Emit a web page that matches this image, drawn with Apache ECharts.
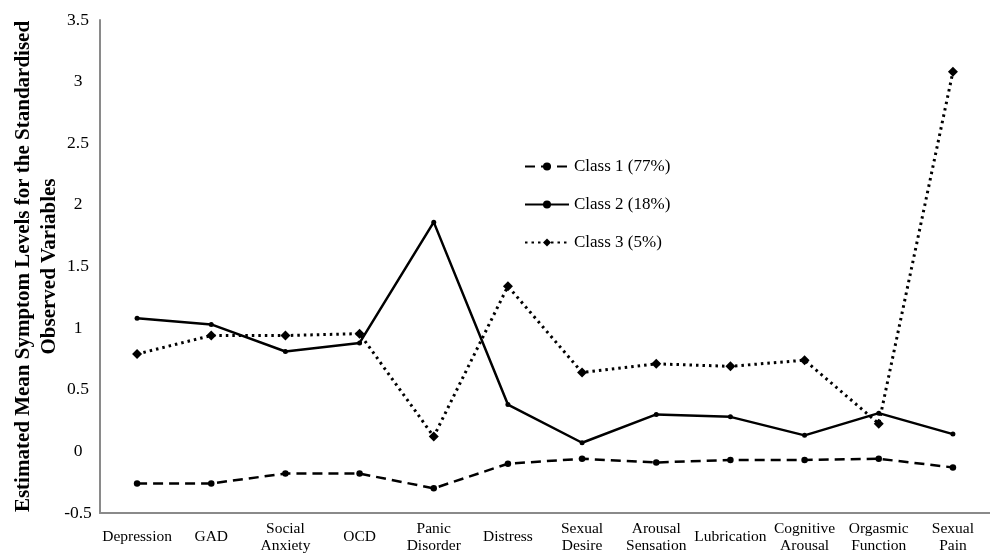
<!DOCTYPE html>
<html><head><meta charset="utf-8">
<script src="https://cdn.jsdelivr.net/npm/echarts@6/dist/echarts.min.js"></script>
<style>html,body{margin:0;padding:0;background:#fff}#c{width:990px;height:558px}</style>
</head><body><div id="c"></div>
<script>
const categories = ['Depression','GAD','Social\nAnxiety','OCD','Panic\nDisorder','Distress','Sexual\nDesire','Arousal\nSensation','Lubrication','Cognitive\nArousal','Orgasmic\nFunction','Sexual\nPain'];
const class1 = [-0.26,-0.26,-0.18,-0.18,-0.30,-0.10,-0.06,-0.09,-0.07,-0.07,-0.06,-0.13];
const class2 = [1.08,1.03,0.81,0.88,1.86,0.38,0.07,0.30,0.28,0.13,0.31,0.14];
const class3 = [0.79,0.94,0.94,0.955,0.12,1.34,0.64,0.71,0.69,0.74,0.225,3.08];
const seriesNames = ['Class 1 (77%)','Class 2 (18%)','Class 3 (5%)'];
const font = '"Liberation Serif", "DejaVu Serif", serif';
const chart = echarts.init(document.getElementById('c'));
chart.setOption({
  animation:false,
  backgroundColor:'#fff',
  textStyle:{fontFamily:font,color:'#000'},
  grid:{left:100,right:0,top:20,bottom:45,outerBoundsMode:'none',containLabel:false},
  legend:{
    orient:'vertical',left:519,top:153,itemWidth:44,itemHeight:10,itemGap:21,
    textStyle:{fontFamily:font,fontSize:17,color:'#000'},
    data:seriesNames
  },
  xAxis:{
    type:'category',data:categories,boundaryGap:true,
    axisLine:{onZero:false,lineStyle:{color:'#8a8a8a',width:2}},
    axisTick:{show:false},
    axisLabel:{interval:0,fontFamily:font,fontSize:15.5,color:'#000',lineHeight:17,margin:24,verticalAlign:'middle'}
  },
  yAxis:{
    type:'value',min:-0.5,max:3.5,interval:0.5,
    name:'Estimated Mean Symptom Levels for the Standardised\nObserved Variables',
    nameLocation:'middle',nameRotate:90,nameGap:37,nameMoveOverlap:false,
    nameTextStyle:{fontFamily:font,fontSize:21,fontWeight:'bold',color:'#000',lineHeight:26},
    axisLine:{show:true,lineStyle:{color:'#8a8a8a',width:2}},
    axisTick:{show:false},
    splitLine:{show:false},
    axisLabel:{fontFamily:font,fontSize:17.5,color:'#000',margin:22,align:'center'}
  },
  series:[
    {name:seriesNames[0],type:'line',data:class1,symbol:'circle',symbolSize:6.5,
     lineStyle:{color:'#000',width:2.5,type:[10,6]},itemStyle:{color:'#000'}},
    {name:seriesNames[1],type:'line',data:class2,symbol:'circle',symbolSize:5,
     lineStyle:{color:'#000',width:2.5,type:'solid'},itemStyle:{color:'#000'}},
    {name:seriesNames[2],type:'line',data:class3,symbol:'diamond',symbolSize:10,
     lineStyle:{color:'#000',width:3,type:[2.5,4]},itemStyle:{color:'#000'}}
  ]
});
</script></body></html>
